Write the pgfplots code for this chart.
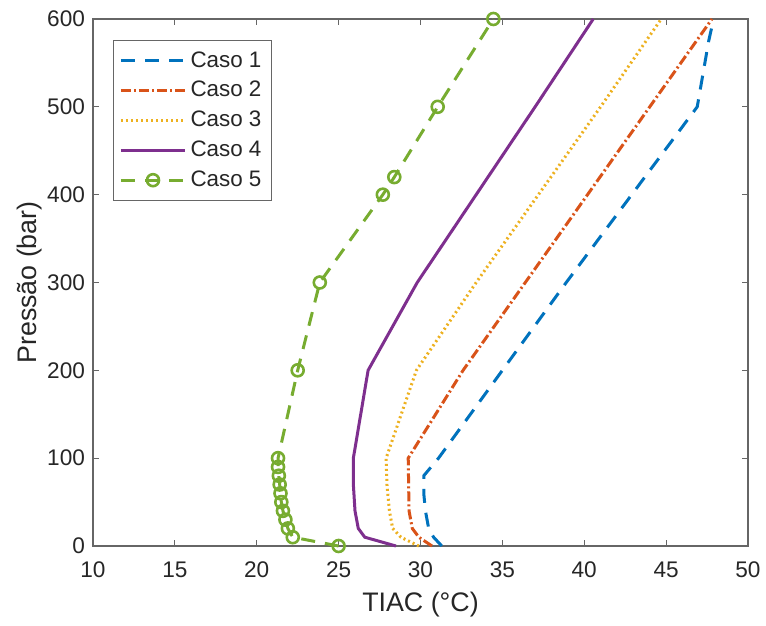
\documentclass[border=0pt]{standalone}
\usepackage{pgfplots}
\pgfplotsset{compat=1.18}
\usepackage{fontspec}
\setmainfont{Liberation Sans}
\usetikzlibrary{calc}
\definecolor{c1}{rgb}{0,0.447,0.741}
\definecolor{c2}{rgb}{0.85,0.325,0.098}
\definecolor{c3}{rgb}{0.929,0.694,0.125}
\definecolor{c4}{rgb}{0.494,0.184,0.556}
\definecolor{c5}{rgb}{0.466,0.674,0.188}
\definecolor{axc}{rgb}{0.40,0.40,0.40}
\definecolor{txc}{rgb}{0.15,0.15,0.15}
\pgfplotsset{
  legline/.style={legend image code/.code={\draw[##1] (0pt,0pt) -- (32pt,0pt);}},
  legmark/.style={legend image code/.code={\draw[##1] (0pt,0pt) -- (32pt,0pt); \draw[##1, solid] plot coordinates {(16pt,0pt)};}},
}
\begin{document}
\begin{tikzpicture}
\begin{axis}[
  scale only axis,
  width=327.5pt, height=263.5pt,
  xmin=10, xmax=50, ymin=0, ymax=600,
  xtick={10,15,...,50}, ytick={0,100,...,600},
  tick align=inside,
  major tick length=3pt,
  axis line style={axc, line width=0.6pt},
  tick style={axc, line width=0.6pt},
  /pgf/number format/assume math mode=true,
  ticklabel style={font=\fontsize{11.3}{13}\selectfont, text=txc},
  xticklabel style={yshift=-4.5pt},
  yticklabel style={xshift=-0.5pt},
  xlabel={TIAC (°C)}, ylabel={Pressão (bar)},
  label style={font=\fontsize{13.4}{15}\selectfont, text=txc},
  xlabel style={at={(axis description cs:0.5,0)}, anchor=center, yshift=-29.5pt},
  ylabel style={at={(axis description cs:0,0.5)}, anchor=center, yshift=31.5pt},
  clip=false,
  legend style={at={(0,1)}, xshift=10pt, yshift=-10.5pt, anchor=north west,
    draw=axc, line width=0.5pt, font=\fontsize{11.2}{13}\selectfont, text=txc,
    row sep=1.6pt, inner xsep=3pt, inner ysep=3.5pt},
  legend cell align=left,
  legline,
  every axis plot/.append style={line width=1.5pt},
]
\addplot[c1, dash pattern=on 7pt off 5pt] coordinates {
(31.3,0)(30.8,10)(30.5,20)(30.3,40)(30.2,60)(30.2,80)(31.1,100)(35.0,200)(38.9,300)(42.9,400)(46.9,500)(47.6,575)(47.9,600)};
\addlegendentry{Caso 1}
\addplot[c2, dash pattern=on 5pt off 1.5pt on 1pt off 1.5pt] coordinates {
(30.7,0)(29.9,10)(29.5,20)(29.3,40)(29.25,100)(32.6,200)(36.4,300)(40.2,400)(44.0,500)(47.8,600)};
\addlegendentry{Caso 2}
\addplot[c3, dash pattern=on 1pt off 1.5pt] coordinates {
(29.9,0)(28.8,10)(28.3,20)(28.1,40)(27.95,70)(27.9,100)(29.75,200)(33.4,300)(37.2,400)(41.0,500)(44.7,600)};
\addlegendentry{Caso 3}
\addplot[c4] coordinates {
(28.5,0)(26.6,10)(26.2,20)(26.0,40)(25.9,70)(25.9,100)(26.8,200)(29.8,300)(33.4,400)(37.0,500)(40.55,600)};
\addlegendentry{Caso 4}
\addplot[c5, dash pattern=on 7pt off 5pt, mark=o, mark size=3pt, mark options={solid, line width=1.3pt}, legmark] coordinates {
(25.0,0)(22.2,10)(21.9,20)(21.75,30)(21.6,40)(21.5,50)(21.45,60)(21.4,70)(21.35,80)(21.3,90)(21.3,100)(22.5,200)(23.85,300)(27.7,400)(28.4,420)(31.05,500)(34.45,600)};
\addlegendentry{Caso 5}
\end{axis}
\pgfresetboundingbox
\path[use as bounding box] ($(current axis.south west)+(-46.5pt,-40pt)$) rectangle ($(current axis.north east)+(9pt,9.5pt)$);
\end{tikzpicture}
\end{document}
